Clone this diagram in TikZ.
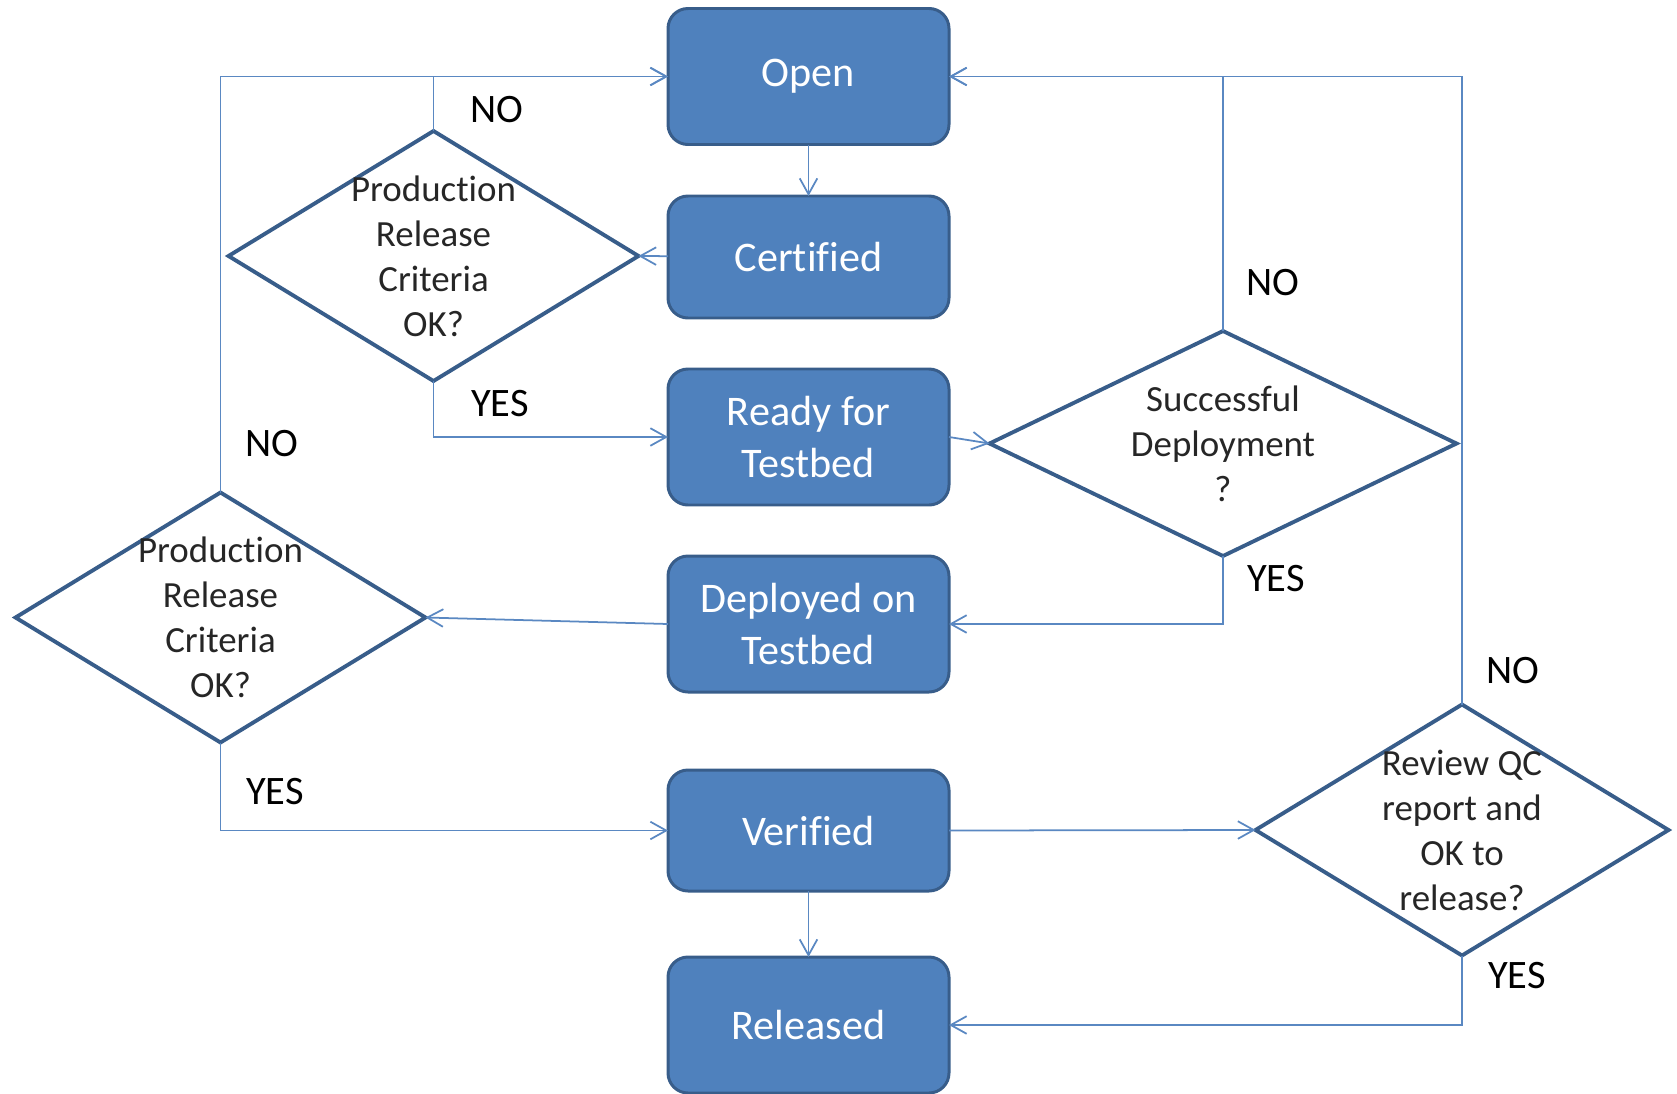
\documentclass[tikz,border=0pt]{standalone}
\usepackage{fontspec}
\setmainfont[Ligatures=NoCommon]{Carlito}
\usetikzlibrary{arrows.meta, shapes.geometric}
\definecolor{boxfill}{HTML}{4F81BD}
\definecolor{boxline}{HTML}{385D8A}
\definecolor{wire}{HTML}{5A88C2}
\tikzset{
  state/.style={draw=boxline, fill=boxfill, line width=0.85pt, rounded corners=0.2cm,
    minimum width=2.81cm, minimum height=1.36cm, text=white, align=center,
    font=\fontsize{12}{14.6}\selectfont, inner sep=0pt, outer sep=0pt},
  decision/.style={draw=boxline, fill=white, line width=1.1pt, shape=diamond,
    minimum width=4.1cm, minimum height=2.5cm, inner sep=0pt, outer sep=0pt},
  dtext/.style={align=center, text=black!85, inner sep=0pt,
    font=\fontsize{10.5}{12.8}\selectfont},
  flow/.style={draw=wire, line width=0.5pt, -{Straight Barb[length=4.5pt, width=5pt]}},
  lbl/.style={font=\fontsize{11.5}{13}\selectfont, inner sep=0pt}
}
\begin{document}
\begin{tikzpicture}
\useasboundingbox (0,0) rectangle (16.77,-10.94);
% states
\node[state] (open) at (8.085,-0.765) {Open};
\node[state, minimum height=1.22cm] (certified) at (8.085,-2.57) {Certified};
\node[state] (ready) at (8.085,-4.37) {Ready for\\Testbed};
\node[state] (deployed) at (8.085,-6.24) {Deployed on\\Testbed};
\node[state, minimum height=1.21cm] (verified) at (8.085,-8.305) {Verified};
\node[state] (released) at (8.085,-10.25) {Released};
% decisions
\node[decision, label={[dtext]center:{Production\\Release\\Criteria\\OK?}}] (crit1) at (4.335,-2.56) {};
\node[decision, label={[dtext]center:{Production\\Release\\Criteria\\OK?}}] (crit2) at (2.205,-6.175) {};
\node[decision, minimum width=4.67cm, minimum height=2.25cm,
  label={[dtext]center:{Successful\\Deployment\\?}}] (deploy) at (12.23,-4.435) {};
\node[decision, minimum width=4.13cm, minimum height=2.51cm,
  label={[dtext]center:{Review QC\\report and\\OK to\\release?}}] (review) at (14.62,-8.30) {};
% connectors
\draw[flow] (open) -- (certified);
\draw[flow] (certified) -- (crit1.east);
\draw[flow] (crit1.north) |- (open.west);
\draw[flow] (crit1.south) |- (ready.west);
\draw[flow] (ready.east) -- (deploy.west);
\draw[flow] (deploy.north) |- (open.east);
\draw[flow] (deploy.south) |- (deployed.east);
\draw[flow] (deployed.west) -- (crit2.east);
\draw[flow] (crit2.north) |- (open.west);
\draw[flow] (crit2.south) |- (verified.west);
\draw[flow] (verified.east) -- (review.west);
\draw[flow] (verified) -- (released);
\draw[flow] (review.north) |- (open.east);
\draw[flow] (review.south) |- (released.east);
% labels
\node[lbl] (no1) at (4.97,-1.10) {NO};
\node[lbl] (yes1) at (5.00,-4.04) {YES};
\node[lbl] (no2) at (2.72,-4.44) {NO};
\node[lbl] (yes2) at (2.75,-7.92) {YES};
\node[lbl] (no3) at (12.73,-2.83) {NO};
\node[lbl] (yes3) at (12.76,-5.79) {YES};
\node[lbl] (no4) at (15.13,-6.71) {NO};
\node[lbl] (yes4) at (15.17,-9.76) {YES};
\end{tikzpicture}
\end{document}
